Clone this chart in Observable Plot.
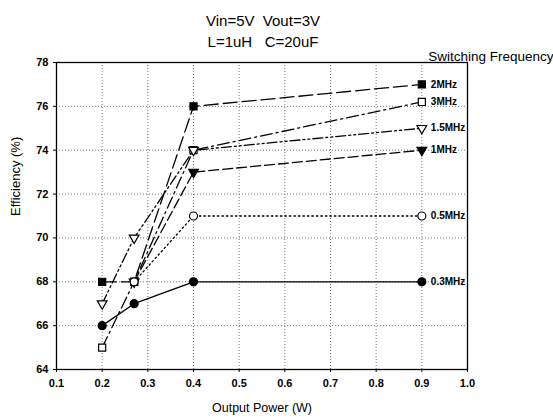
<!DOCTYPE html>
<html><head><meta charset="utf-8">
<script src="https://cdn.jsdelivr.net/npm/d3@7"></script>
<script src="https://cdn.jsdelivr.net/npm/@observablehq/plot@0.6"></script>
<style>body{margin:0;background:#fff}svg{font-family:"Liberation Sans",Arial,sans-serif}</style>
</head><body><div id="chart"></div>
<script>
const power = [0.2, 0.27, 0.4, 0.9];
const series = ["2MHz", "3MHz", "1.5MHz", "1MHz", "0.5MHz", "0.3MHz"];
const eff2 = [68, 68, 76, 77];
const eff3 = [65, 68, 74, 76.2];
const eff15 = [67, 70, 74, 75];
const eff1 = [null, 68, 73, 74];
const eff05 = [null, 68, 71, 71];
const eff03 = [66, 67, 68, 68];
const xTicks = [0.1,0.2,0.3,0.4,0.5,0.6,0.7,0.8,0.9,1.0];
const yTicks = [64,66,68,70,72,74,76,78];

const values = [eff2, eff3, eff15, eff1, eff05, eff03];
const styles = {
  "2MHz":   {dash: "14,5", sym: "square", fill: "black", rot: 0, r: 4},
  "3MHz":   {dash: "12,4,2,4", sym: "square", fill: "white", rot: 0, r: 4},
  "1.5MHz": {dash: "10,3,2,3,2,3", sym: "triangle", fill: "white", rot: 180, r: 3.6},
  "1MHz":   {dash: "10,4", sym: "triangle", fill: "black", rot: 180, r: 3.6},
  "0.5MHz": {dash: "1.5,3", sym: "circle", fill: "white", rot: 0, r: 4},
  "0.3MHz": {dash: null, sym: "circle", fill: "black", rot: 0, r: 4}
};
const marks = [];
marks.push(Plot.gridX(xTicks, {stroke: "#555", strokeOpacity: 0.8, strokeDasharray: "1,2"}));
marks.push(Plot.gridY(yTicks, {stroke: "#555", strokeOpacity: 0.8, strokeDasharray: "1,2"}));
marks.push(Plot.frame({stroke: "black", strokeWidth: 1.3}));
const lastPts = [];
const dataBy = series.map((s, i) => power.map((p, j) => ({x: p, y: values[i][j], s})));
series.forEach((s, i) => {
  const st = styles[s];
  marks.push(Plot.line(dataBy[i], {x: "x", y: "y", stroke: "black", strokeWidth: 1.3, strokeDasharray: st.dash}));
  lastPts.push(dataBy[i][power.length - 1]);
});
series.forEach((s, i) => {
  const st = styles[s];
  marks.push(Plot.dot(dataBy[i].filter(d => d.y != null), {x: "x", y: "y", symbol: st.sym, r: st.r, fill: st.fill, stroke: "black", strokeWidth: 1.2, rotate: st.rot}));
});
marks.push(Plot.text(lastPts, {x: "x", y: "y", text: "s", dx: 9, textAnchor: "start", fontWeight: "bold", fontSize: 10, fill: "black"}));
marks.push(Plot.axisX(xTicks, {tickFormat: d3.format(".1f"), tickSize: 3, tickPadding: 7, fontSize: 11, fontWeight: "bold", label: null}));
marks.push(Plot.axisY(yTicks, {tickSize: 3, tickPadding: 5, fontSize: 11, fontWeight: "bold", label: null}));
marks.push(Plot.text(["Output Power (W)"], {frameAnchor: "bottom", dy: 42, fontSize: 12.5, fill: "black"}));
marks.push(Plot.text(["Efficiency (%)"], {frameAnchor: "left", dx: -41, rotate: -90, fontSize: 13, fill: "black"}));
marks.push(Plot.text(["Vin=5V  Vout=3V"], {frameAnchor: "top", dx: 1, dy: -47, fontSize: 15, fill: "black"}));
marks.push(Plot.text(["L=1uH   C=20uF"], {frameAnchor: "top", dx: 1, dy: -26, fontSize: 15, fill: "black"}));
marks.push(Plot.text(["Switching Frequency"], {frameAnchor: "top-right", dx: 86, dy: -11, textAnchor: "end", fontSize: 13.5, fill: "black"}));

const chart = Plot.plot({
  width: 553, height: 419,
  marginLeft: 56, marginRight: 86, marginTop: 62, marginBottom: 50,
  style: {fontFamily: '"Liberation Sans", Arial, sans-serif', color: "black", background: "white", overflow: "visible"},
  x: {domain: [0.1, 1.0]},
  y: {domain: [64, 78]},
  marks
});
document.getElementById("chart").appendChild(chart);
</script></body></html>
